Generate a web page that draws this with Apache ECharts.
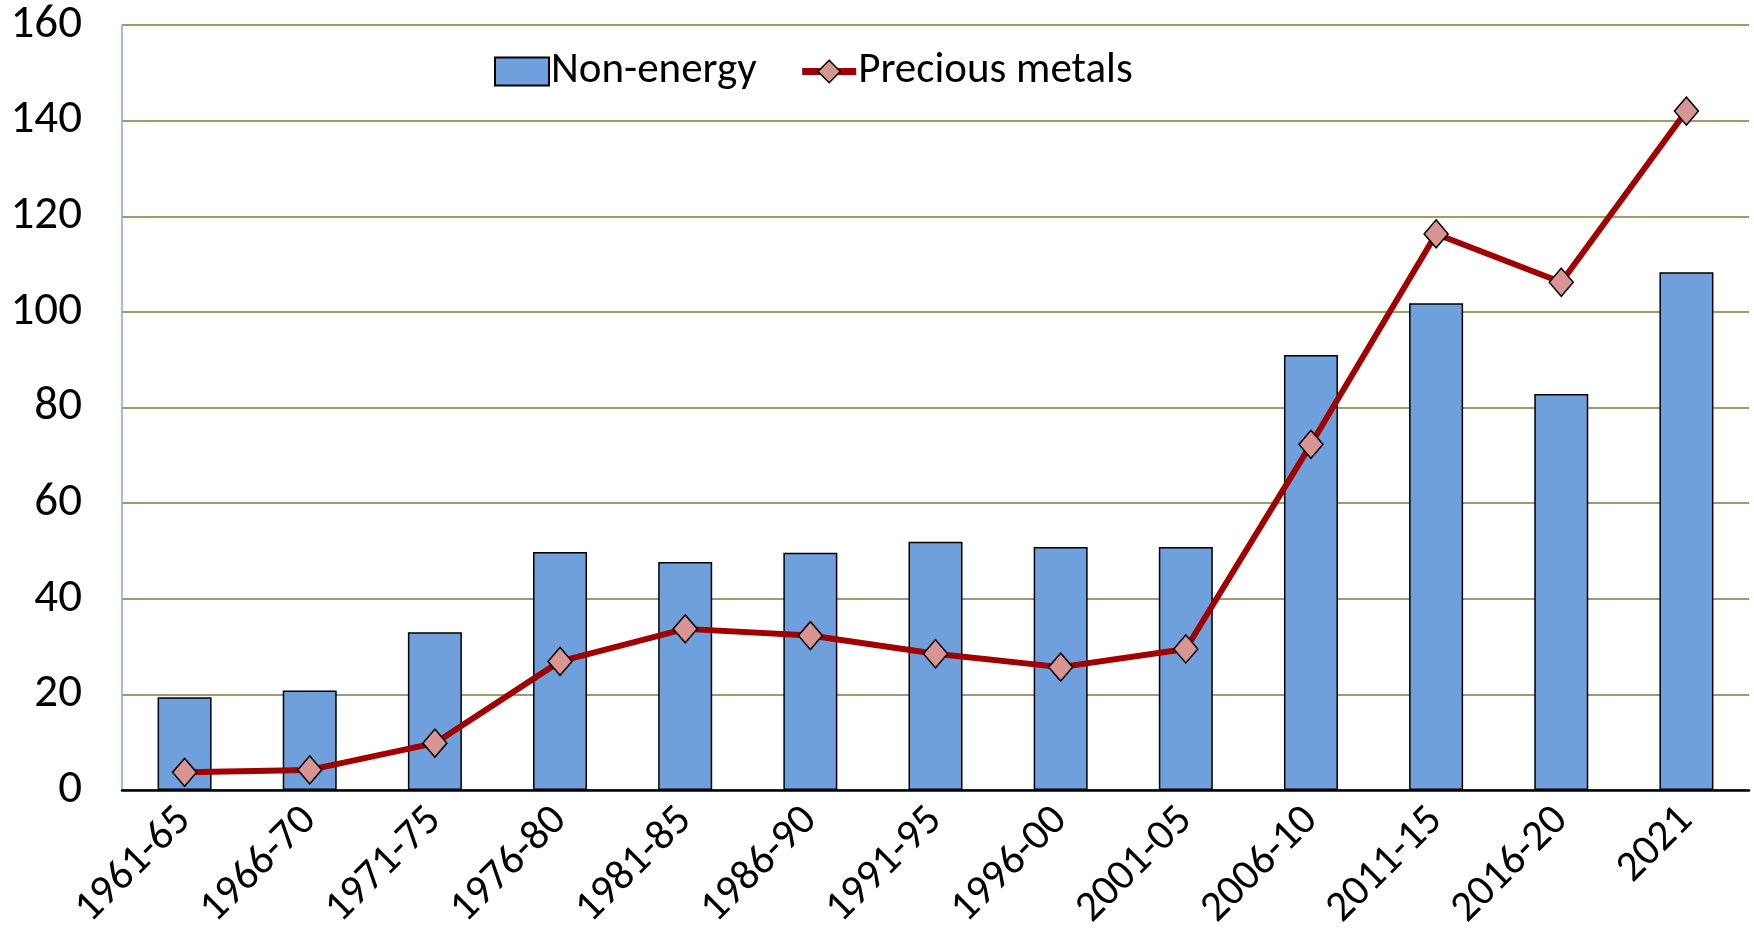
<!DOCTYPE html>
<html>
<head>
<meta charset="utf-8">
<script src="https://cdn.jsdelivr.net/npm/echarts@6/dist/echarts.min.js"></script>
<style>
  html, body { margin: 0; padding: 0; background: #fff; }
  #chart { width: 1754px; height: 948px; }
</style>
</head>
<body>
<div id="chart"></div>
<script>
// Five-year periods
const categories = ['1961-65', '1966-70', '1971-75', '1976-80', '1981-85', '1986-90',
  '1991-95', '1996-00', '2001-05', '2006-10', '2011-15', '2016-20', '2021'];

// Price index levels
const nonEnergy = [19.4, 20.8, 33.0, 49.8, 47.7, 49.6, 51.9, 50.8, 50.8, 91.0, 101.8, 82.8, 108.3];
const preciousMetals = [3.7, 4.2, 9.8, 26.9, 33.7, 32.3, 28.5, 25.7, 29.5, 72.3, 116.3, 106.2, 142.0];

const yTicks = { min: 0, max: 160, interval: 20 };

const FONT = 'Carlito, Calibri, Lato, sans-serif';
const BAR_COLOR = '#6fa0dc';
const LINE_COLOR = '#a00000';
const MARKER_COLOR = '#d99594';

const chart = echarts.init(document.getElementById('chart'), null, { renderer: 'canvas' });

chart.setOption({
  animation: false,
  backgroundColor: '#ffffff',
  textStyle: { fontFamily: FONT },
  grid: { left: 122, right: 5, top: 25, bottom: 158, containLabel: false },
  legend: {
    left: 489,
    top: 45,
    itemWidth: 54,
    itemHeight: 28,
    itemGap: 42,
    textStyle: { fontFamily: FONT, fontSize: 43, color: '#000', padding: [0, 0, 0, -3] },
    data: [
      {
        name: 'Non-energy',
        icon: 'rect',
        itemStyle: { color: BAR_COLOR, borderColor: '#000', borderWidth: 2 }
      },
      {
        name: 'Precious metals',
        lineStyle: { color: LINE_COLOR, width: 7 },
        itemStyle: { color: MARKER_COLOR, borderColor: '#000', borderWidth: 1.5 }
      }
    ]
  },
  xAxis: {
    type: 'category',
    data: categories,
    axisLine: { show: true, lineStyle: { color: '#000', width: 2.5 } },
    axisTick: { show: false },
    axisLabel: {
      rotate: 45,
      margin: 24,
      fontFamily: FONT,
      fontSize: 43,
      color: '#000',
      interval: 0
    }
  },
  yAxis: {
    type: 'value',
    min: yTicks.min,
    max: yTicks.max,
    interval: yTicks.interval,
    axisLine: { show: true, lineStyle: { color: '#7ea6e0', width: 1.5 } },
    axisTick: { show: false },
    axisLabel: { margin: 40, fontFamily: FONT, fontSize: 47, color: '#000' },
    splitLine: { show: true, lineStyle: { color: '#a09b6f', width: 2 } }
  },
  series: [
    {
      name: 'Non-energy',
      type: 'bar',
      data: nonEnergy,
      barWidth: 54,
      itemStyle: { color: BAR_COLOR, borderColor: '#000', borderWidth: 1.5 },
      z: 2
    },
    {
      name: 'Precious metals',
      type: 'line',
      data: preciousMetals,
      symbol: 'diamond',
      symbolSize: [24, 28],
      showAllSymbol: true,
      lineStyle: { color: LINE_COLOR, width: 6 },
      itemStyle: { color: MARKER_COLOR, borderColor: '#000', borderWidth: 1.5 },
      z: 3
    }
  ]
});
</script>
</body>
</html>
